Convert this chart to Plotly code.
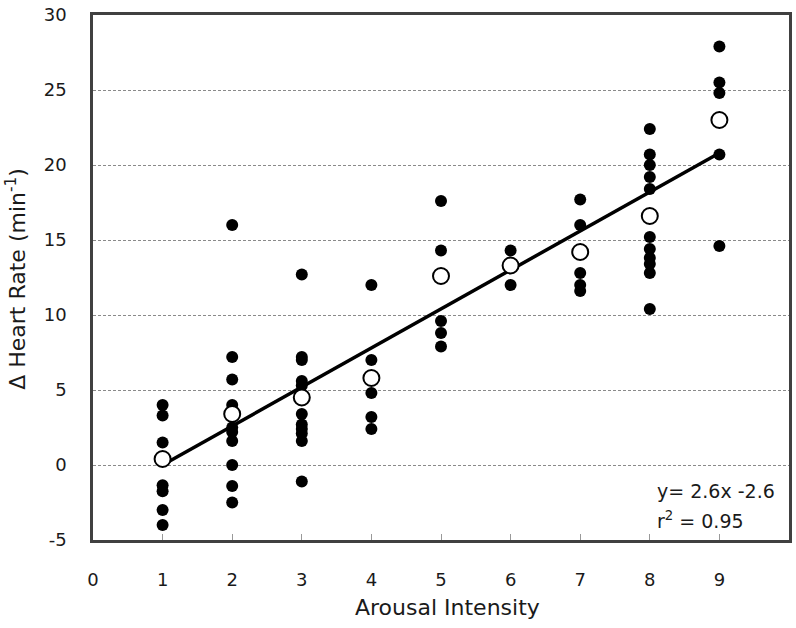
import plotly.graph_objects as go

# ---- data ----
intensity = [1, 2, 3, 4, 5, 6, 7, 8, 9]
individual = {
    1: [4.0, 3.3, 1.5, -1.35, -1.75, -3.0, -4.0],
    2: [16.0, 7.2, 5.7, 4.0, 2.5, 2.2, 1.6, 0.0, -1.4, -2.5],
    3: [12.7, 7.2, 7.0, 5.6, 5.3, 3.4, 2.7, 2.4, 2.1, 1.6, -1.1],
    4: [12.0, 7.0, 4.8, 3.2, 2.4],
    5: [17.6, 14.3, 9.6, 8.8, 7.9],
    6: [14.3, 12.0],
    7: [17.7, 16.0, 12.8, 12.0, 11.6],
    8: [22.4, 20.7, 20.0, 19.2, 18.4, 15.2, 14.4, 13.8, 13.4, 12.8, 10.4],
    9: [27.9, 25.5, 24.8, 20.7, 14.6],
}
means = [0.4, 3.4, 4.5, 5.8, 12.6, 13.3, 14.2, 16.6, 23.0]
slope, intercept = 2.6, -2.6
fit_x = [1, 9]
x_ticks = [0, 1, 2, 3, 4, 5, 6, 7, 8, 9]
y_ticks = [-5, 0, 5, 10, 15, 20, 25, 30]

pts_x, pts_y = [], []
for k in intensity:
    for v in individual[k]:
        pts_x.append(k)
        pts_y.append(v)

fig = go.Figure()
fig.add_trace(go.Scatter(x=pts_x, y=pts_y, mode="markers",
                         marker=dict(size=12, color="black", line=dict(width=0)),
                         showlegend=False))
fig.add_trace(go.Scatter(x=fit_x, y=[slope * v + intercept for v in fit_x], mode="lines",
                         line=dict(color="black", width=3.5), showlegend=False))
fig.add_trace(go.Scatter(x=intensity, y=means, mode="markers",
                         marker=dict(size=16, color="white", line=dict(color="black", width=2)),
                         showlegend=False))

tick_font = dict(family="DejaVu Sans", size=18, color="#1a1a1a")
fig.update_layout(
    width=796, height=628,
    margin=dict(l=93, r=4, t=10, b=88),
    paper_bgcolor="white", plot_bgcolor="white",
    xaxis=dict(range=[0, 10], tickvals=x_ticks, ticktext=[str(v) for v in x_ticks],
               ticks="inside", ticklen=6, tickcolor="#999", tickwidth=1,
               showgrid=False, zeroline=False, showline=True, mirror=True,
               linecolor="#404040", linewidth=2.5, tickfont=tick_font,
               ticklabelstandoff=22, ticklabeloverflow="allow"),
    yaxis=dict(range=[-5, 30], tickvals=y_ticks,
               ticktext=[str(v) for v in y_ticks], ticks="", showgrid=True,
               gridcolor="#8a8a8a", gridwidth=1, griddash="3px,2px",
               zeroline=False, showline=True, mirror=True,
               linecolor="#404040", linewidth=2.5, tickfont=tick_font,
               ticklabelstandoff=20, ticklabeloverflow="allow"),
    annotations=[
        dict(text="Arousal Intensity", xref="paper", yref="paper",
             x=(449 - 93) / 699, y=-(608 - 540) / 530, xanchor="center", yanchor="middle",
             showarrow=False, font=dict(family="DejaVu Sans", size=22, color="#1a1a1a")),
        dict(text="Δ Heart Rate (min<sup>-1</sup>)", xref="paper", yref="paper",
             x=-(93 - 16) / 699, y=(540 - 276) / 530, xanchor="center", yanchor="middle",
             textangle=-90, showarrow=False,
             font=dict(family="DejaVu Sans", size=22, color="#1a1a1a")),
        dict(text="y= 2.6x -2.6", xref="x", yref="y", x=8.07, y=-1.75,
             xanchor="left", yanchor="middle", showarrow=False,
             font=dict(family="DejaVu Sans", size=19, color="#1a1a1a")),
        dict(text="r<sup>2</sup> = 0.95", xref="x", yref="y", x=8.07, y=-3.66,
             xanchor="left", yanchor="middle", showarrow=False,
             font=dict(family="DejaVu Sans", size=19, color="#1a1a1a")),
    ],
)

fig.write_html("out.html", config={"displayModeBar": False},
               post_script="document.body.style.margin='0';document.body.style.overflow='hidden';")
